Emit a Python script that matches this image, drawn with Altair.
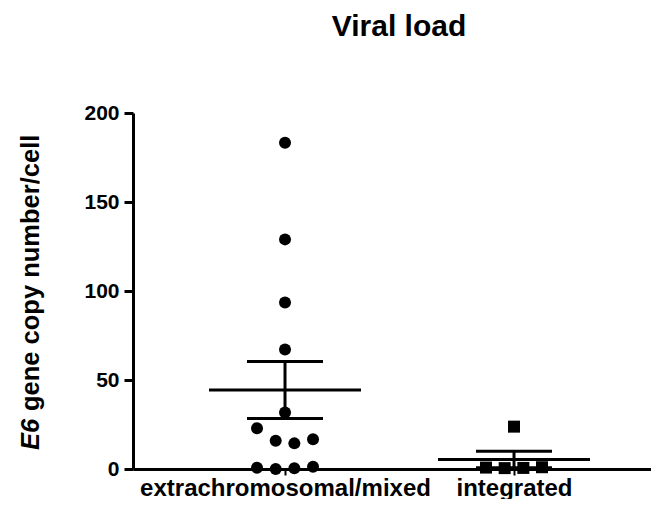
import altair as alt
import pandas as pd
import numpy as np

# ---- data ----
groups = ["extrachromosomal/mixed", "integrated"]
extra_values = [183.3, 129.0, 93.6, 67.2, 31.8, 22.9, 15.9, 14.4, 16.7, 0.7, 0.0, 0.4, 1.3]
integrated_values = [23.8, 0.8, 0.5, 0.6, 1.0]
y_ticks = [0, 50, 100, 150, 200]
title_text = "Viral load"
y_title_italic = "E6"
y_title_rest = "gene copy number/cell"

FONT = "Liberation Sans"


def column_slots(values, gap=10):
    """Spread points with similar values side by side (column scatter)."""
    order = sorted(range(len(values)), key=lambda i: values[i])
    rows = []
    for i in order:
        if rows and values[i] - values[rows[-1][0]] < gap:
            rows[-1].append(i)
        else:
            rows.append([i])
    off = [0.0] * len(values)
    for r in rows:
        r = sorted(r)
        k = len(r)
        for j, i in enumerate(r):
            off[i] = j - (k - 1) / 2
    return off


pts = pd.DataFrame({
    "group": [groups[0]] * len(extra_values) + [groups[1]] * len(integrated_values),
    "value": extra_values + integrated_values,
    "slot": column_slots(extra_values) + column_slots(integrated_values),
})

rows = []
for g, vals in zip(groups, [extra_values, integrated_values]):
    a = np.array(vals)
    m = a.mean()
    se = a.std(ddof=1) / np.sqrt(len(a))
    rows.append({"group": g, "mean": m, "lo": m - se, "hi": m + se})
summ = pd.DataFrame(rows)

x_enc = alt.X(
    "group:N",
    scale=alt.Scale(type="point", domain=groups, padding=0.631, align=0.526),
    axis=alt.Axis(
        title=None, labelAngle=0, labelFont=FONT, labelFontSize=24,
        labelFontWeight="bold", labelColor="black", labelPadding=1,
        labelLimit=0, tickSize=6, tickWidth=2, tickColor="black",
        domainColor="black", domainWidth=3,
    ),
)
y_scale = alt.Scale(domain=[0, 200], nice=False, zero=True)
y_axis = alt.Axis(
    title=None, values=y_ticks, grid=False, labelFont=FONT, labelFontSize=21,
    labelFontWeight="bold", labelColor="black", labelPadding=5, tickSize=9,
    tickWidth=3, tickColor="black", domainColor="black", domainWidth=3,
)

points = alt.Chart(pts).mark_point(filled=True, opacity=1, color="black", strokeWidth=0).encode(
    x=x_enc,
    y=alt.Y("value:Q", scale=y_scale, axis=y_axis),
    xOffset=alt.XOffset("slot:Q", scale=alt.Scale(domain=[-1.5, 1.5], range=[-28, 28])),
    shape=alt.Shape("group:N", scale=alt.Scale(domain=groups, range=["circle", "square"]), legend=None),
    size=alt.value(144),
)

base = alt.Chart(summ)
mean_tick = base.mark_tick(color="black", thickness=3, size=152, opacity=1).encode(
    x=x_enc, y=alt.Y("mean:Q", scale=y_scale))
hi_tick = base.mark_tick(color="black", thickness=3, size=76, opacity=1).encode(
    x=x_enc, y=alt.Y("hi:Q", scale=y_scale))
lo_tick = base.mark_tick(color="black", thickness=3, size=76, opacity=1).encode(
    x=x_enc, y=alt.Y("lo:Q", scale=y_scale))
sem_rule = base.mark_rule(color="black", strokeWidth=3).encode(
    x=x_enc, y=alt.Y("lo:Q", scale=y_scale), y2="hi:Q")

t_italic = alt.Chart(pd.DataFrame({"t": [y_title_italic]})).mark_text(
    angle=270, align="left", baseline="alphabetic", font=FONT, fontSize=25.5,
    fontWeight="bold", fontStyle="italic", color="black",
).encode(text="t:N", x=alt.value(-94), y=alt.value(337))
t_rest = alt.Chart(pd.DataFrame({"t": [y_title_rest]})).mark_text(
    angle=270, align="left", baseline="alphabetic", font=FONT, fontSize=25.5,
    fontWeight="bold", color="black",
).encode(text="t:N", x=alt.value(-94), y=alt.value(298))

chart = alt.layer(mean_tick, hi_tick, lo_tick, sem_rule, points, t_italic, t_rest).properties(
    width=518,
    height=356,
    padding={"left": 125, "top": 105, "right": 0, "bottom": 30},
    autosize=alt.AutoSizeParams(type="none"),
    title=alt.Title(title_text, font=FONT, fontSize=30, fontWeight="bold", color="black",
                    anchor="middle", dx=7, offset=60),
).configure_view(stroke=None)

chart.save("out.html", embed_options={"renderer": "svg", "actions": False})
